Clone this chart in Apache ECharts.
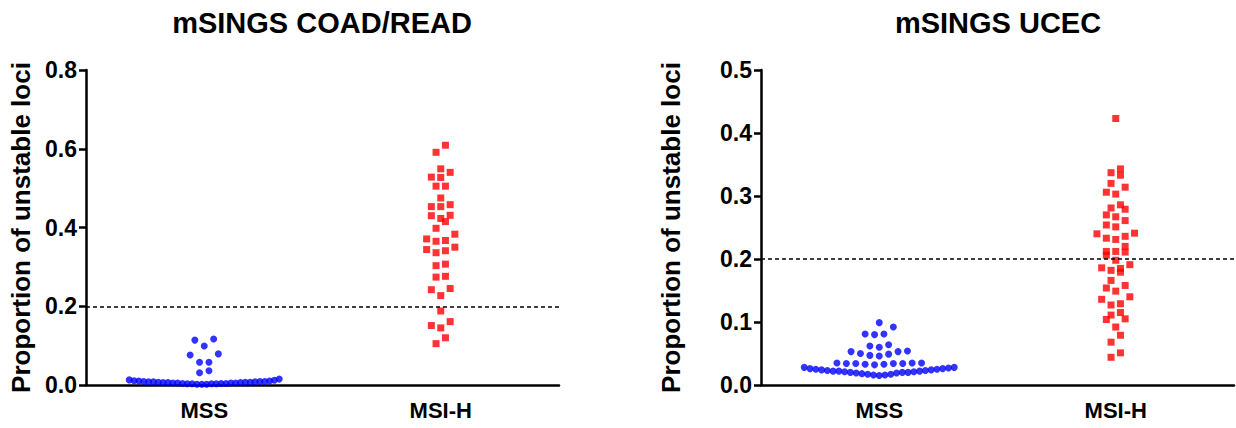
<!DOCTYPE html>
<html><head><meta charset="utf-8">
<script src="https://cdn.jsdelivr.net/npm/echarts@6/dist/echarts.min.js"></script>
<style>html,body{margin:0;padding:0;background:#fff}#c{width:1236px;height:428px}</style>
</head><body><div id="c"></div>
<script>
// ---- data ----
const panelTitles = ['mSINGS COAD/READ', 'mSINGS UCEC'];
const categories = ['MSS', 'MSI-H'];
const yAxisName = 'Proportion of unstable loci';
const cutoff = 0.2;
const coadYTicks = ['0.0', '0.2', '0.4', '0.6', '0.8'];
const ucecYTicks = ['0.0', '0.1', '0.2', '0.3', '0.4', '0.5'];

const coadMSS = [0.002,0.002,0.002,0.003,0.003,0.003,0.003,0.004,0.004,0.004,0.005,0.005,0.005,0.005,0.006,0.006,
  0.006,0.007,0.007,0.007,0.008,0.008,0.008,0.009,0.009,0.009,0.010,0.010,0.011,0.012,0.013,0.015,
  0.031,0.036,0.058,0.058,0.076,0.079,0.099,0.114,0.117];
const coadMSIH = [0.609,0.591,0.549,0.540,0.528,0.527,0.505,0.505,0.475,0.458,0.453,0.453,0.430,0.431,0.423,0.415,
  0.398,0.383,0.371,0.367,0.365,0.350,0.344,0.341,0.336,0.307,0.303,0.274,0.276,0.242,0.245,0.227,
  0.188,0.161,0.151,0.145,0.120,0.105];
const ucecMSS = [0.015,0.016,0.016,0.017,0.017,0.018,0.019,0.019,0.020,0.020,0.020,0.021,0.021,0.022,0.022,0.022,
  0.023,0.023,0.024,0.024,0.025,0.025,0.026,0.026,0.027,0.028,0.028,
  0.032,0.033,0.033,0.034,0.034,0.034,0.034,0.035,0.035,0.035,
  0.046,0.047,0.049,0.050,0.053,0.053,0.054,
  0.060,0.062,0.064,0.080,0.081,0.081,0.092,0.099];
const ucecMSIH = [0.423,0.343,0.337,0.333,0.320,0.314,0.306,0.303,0.281,0.286,0.279,0.267,0.270,0.261,0.254,0.251,
  0.241,0.236,0.240,0.231,0.233,0.220,0.212,0.211,0.212,0.206,0.198,0.191,0.185,0.182,0.179,0.186,
  0.166,0.154,0.158,0.149,0.136,0.140,0.127,0.129,0.115,0.111,0.105,0.104,0.092,0.079,0.068,0.051,0.044];

// ---- layout (beeswarm computed from values) ----
const FONT = '"Liberation Sans", Arial, sans-serif';
const gridWPx = 473, plotHPx = 315;
const dotStepPx = 9.4, maxRowPx = 150, rowPx = 8.5;

function swarm(values, center, yMax) {
  const pxPerY = plotHPx / yMax, pxPerX = gridWPx / 2;
  const s = values.slice().sort((a, b) => a - b);
  const out = [];
  let i = 0;
  while (i < s.length) {
    const start = s[i], row = [];
    while (i < s.length && (s[i] - start) * pxPerY < rowPx) { row.push(s[i]); i++; }
    const n = row.length;
    let step = dotStepPx;
    if (n > 1 && (n - 1) * step > maxRowPx) step = maxRowPx / (n - 1);
    const slots = [];
    if (n % 2) { slots.push(0); for (let k = 1; slots.length < n; k++) { slots.push(-k); if (slots.length < n) slots.push(k); } }
    else { for (let k = 0; slots.length < n; k++) { slots.push(-(k + 0.5)); slots.push(k + 0.5); } }
    row.forEach((v, j) => out.push([center + slots[j] * step / pxPerX, v]));
  }
  return out;
}

const axisLine = { lineStyle: { color: '#000', width: 2.5 } };
const axisTick = { length: 7, lineStyle: { color: '#000', width: 2.5 } };

function yAx(grid, ticks, gap) {
  const max = parseFloat(ticks[ticks.length - 1]);
  return {
    type: 'value', gridIndex: grid, min: 0, max: max, interval: parseFloat(ticks[1]),
    name: yAxisName, nameLocation: 'middle', nameGap: gap,
    nameTextStyle: { fontFamily: FONT, fontWeight: 'bold', fontSize: 26, color: '#000' },
    axisLine: Object.assign({ show: true }, axisLine), axisTick: Object.assign({ show: true }, axisTick),
    splitLine: { show: false },
    axisLabel: { fontFamily: FONT, fontWeight: 'bold', fontSize: 23, color: '#000', margin: 9,
      formatter: v => ticks[Math.round(v / parseFloat(ticks[1]))] }
  };
}
function xCat(grid) {
  return {
    type: 'category', gridIndex: grid, data: categories, boundaryGap: true,
    axisLine: axisLine, axisTick: Object.assign({ alignWithLabel: true }, axisTick),
    axisLabel: { fontFamily: FONT, fontWeight: 'bold', fontSize: 22, color: '#000', margin: 14 }
  };
}
function xVal(grid) { return { type: 'value', gridIndex: grid, min: 0, max: 2, show: false }; }

function pts(name, data, xi, yi, color, symbol) {
  return { name: name, type: 'scatter', xAxisIndex: xi, yAxisIndex: yi, data: data, clip: false,
    symbol: symbol, symbolSize: 7, itemStyle: { color: color }, silent: true, z: 3 };
}
function cutLine(xi, yi) {
  return { type: 'line', xAxisIndex: xi, yAxisIndex: yi, data: [], silent: true,
    markLine: { silent: true, symbol: 'none', label: { show: false }, animation: false,
      lineStyle: { color: '#000', width: 1.5, type: [4, 3] }, data: [{ yAxis: cutoff }] } };
}

const chart = echarts.init(document.getElementById('c'), null, { renderer: 'svg' });
chart.setOption({
  animation: false,
  backgroundColor: '#fff',
  graphic: [
    { type: 'text', x: 322, y: 23, style: { text: panelTitles[0], font: 'bold 29px ' + FONT, fill: '#000', align: 'center', verticalAlign: 'middle', textAlign: 'center', textVerticalAlign: 'middle' } },
    { type: 'text', x: 998, y: 23, style: { text: panelTitles[1], font: 'bold 29px ' + FONT, fill: '#000', align: 'center', verticalAlign: 'middle', textAlign: 'center', textVerticalAlign: 'middle' } }
  ],
  grid: [
    { left: 86, width: gridWPx, top: 70, height: plotHPx },
    { left: 761, width: gridWPx, top: 70, height: plotHPx }
  ],
  xAxis: [xCat(0), xVal(0), xCat(1), xVal(1)],
  yAxis: [yAx(0, coadYTicks, 52), yAx(1, ucecYTicks, 77)],
  series: [
    cutLine(1, 0),
    pts('MSS', swarm(coadMSS, 0.5, 0.8), 1, 0, '#0000FF', 'circle'),
    pts('MSI-H', swarm(coadMSIH, 1.5, 0.8), 1, 0, '#FF0000', 'rect'),
    cutLine(3, 1),
    pts('MSS', swarm(ucecMSS, 0.5, 0.5), 3, 1, '#0000FF', 'circle'),
    pts('MSI-H', swarm(ucecMSIH, 1.5, 0.5), 3, 1, '#FF0000', 'rect')
  ]
});
</script></body></html>
